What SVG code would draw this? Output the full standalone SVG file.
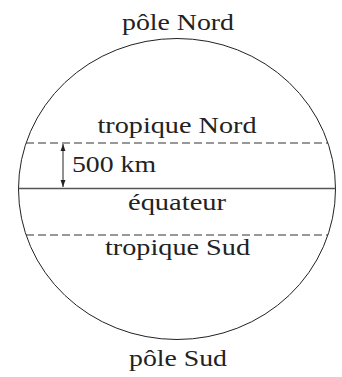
<svg xmlns="http://www.w3.org/2000/svg" width="342" height="377" viewBox="0 0 342 377">
<style>
text{font-family:"Liberation Serif","Times New Roman",serif;font-size:24px;fill:#222;text-anchor:middle}
.dash{stroke:#333;stroke-width:1;stroke-dasharray:8 4;fill:none}
.globe{stroke:#222;stroke-width:1;fill:none}
.eq{stroke:#555;stroke-width:1.6}
.arr{stroke:#222;stroke-width:1}
</style>
<defs>
<marker id="ah" viewBox="0 0 10 10" refX="10" refY="5" markerWidth="7" markerHeight="7" orient="auto-start-reverse" markerUnits="userSpaceOnUse">
<path d="M0,1.5 L10,5 L0,8.5 Z" fill="#222"/>
</marker>
</defs>
<rect width="342" height="377" fill="#fff"/>
<g id="globe">
<ellipse class="globe" cx="177" cy="189" rx="158.5" ry="150.5"/>
</g>
<g id="connectors">
<line class="dash" x1="26" y1="143" x2="328" y2="143"/>
<line class="eq" x1="18.5" y1="188.5" x2="335.5" y2="188.5"/>
<line class="dash" x1="26" y1="235" x2="328" y2="235"/>
<line class="arr" x1="63" y1="144" x2="63" y2="187" marker-start="url(#ah)" marker-end="url(#ah)"/>
</g>
<g id="pole-nord"><text x="178" y="30" textLength="112" lengthAdjust="spacingAndGlyphs">pôle Nord</text></g>
<g id="tropique-nord"><text x="177" y="133" textLength="159" lengthAdjust="spacingAndGlyphs">tropique Nord</text></g>
<g id="distance"><text x="114" y="172" textLength="84" lengthAdjust="spacingAndGlyphs">500 km</text></g>
<g id="equateur"><text x="177" y="210" textLength="98" lengthAdjust="spacingAndGlyphs">équateur</text></g>
<g id="tropique-sud"><text x="177.5" y="255" textLength="145" lengthAdjust="spacingAndGlyphs">tropique Sud</text></g>
<g id="pole-sud"><text x="178" y="366" textLength="98" lengthAdjust="spacingAndGlyphs">pôle Sud</text></g>
</svg>
